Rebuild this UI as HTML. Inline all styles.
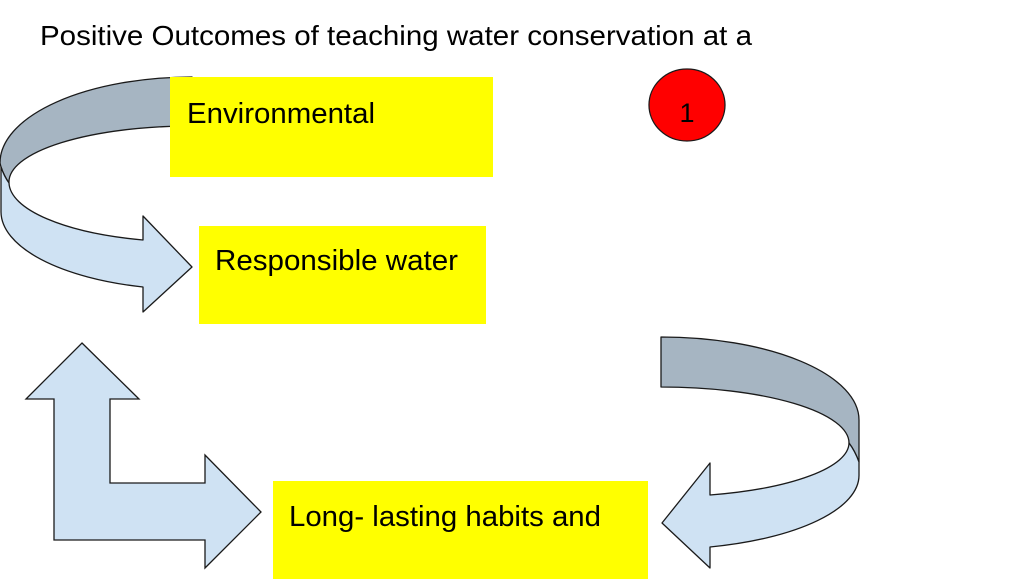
<!DOCTYPE html>
<html>
<head>
<meta charset="utf-8">
<style>
  html,body{margin:0;padding:0;background:#fff;}
  body{width:1024px;height:579px;overflow:hidden;}
  svg{display:block;}
  text{font-family:"Liberation Sans", Arial, sans-serif;fill:#000;}
</style>
</head>
<body>
<svg width="1024" height="579" viewBox="0 0 1024 579" xmlns="http://www.w3.org/2000/svg">
  <rect x="0" y="0" width="1024" height="579" fill="#fff"/>

  <!-- Title -->
  <text x="40" y="45" font-size="28" textLength="712" lengthAdjust="spacingAndGlyphs">Positive Outcomes of teaching water conservation at a</text>

  <!-- Top-left curved arrow: back (dark) band -->
  <path d="M192,77 A192,86 0 0 0 0,163 L1,167 Q4,176 9,183 A182,56 0 0 1 192,126 Z"
        fill="#a6b5c2" stroke="#1a1a1a" stroke-width="1.3" stroke-linejoin="round"/>
  <!-- front (light) band with head -->
  <path d="M1,167 L1,212 A191,78 0 0 0 143,287 L143,312 L192,267 L143,216 L143,240 A182,60 0 0 1 9,183 Q4,176 1,167 Z"
        fill="#cfe2f3" stroke="#1a1a1a" stroke-width="1.3" stroke-linejoin="round"/>

  <!-- Environmental box -->
  <rect x="170" y="77" width="323" height="100" fill="#ffff00"/>
  <text x="187" y="123" font-size="29" textLength="188" lengthAdjust="spacingAndGlyphs">Environmental</text>

  <!-- Red circle -->
  <ellipse cx="687" cy="105" rx="38" ry="36" fill="#ff0000" stroke="#1a1a1a" stroke-width="1.3"/>
  <text x="687" y="122" font-size="27" text-anchor="middle">1</text>

  <!-- Responsible water box -->
  <rect x="199" y="226" width="287" height="98" fill="#ffff00"/>
  <text x="215" y="270" font-size="29" textLength="243" lengthAdjust="spacingAndGlyphs">Responsible water</text>

  <!-- Bent double arrow (L-shape) -->
  <path d="M82,343 L139,399 L110,399 L110,483 L205,483 L205,455 L261,512 L205,568 L205,540 L54,540 L54,399 L26,399 Z"
        fill="#cfe2f3" stroke="#1a1a1a" stroke-width="1.3" stroke-linejoin="miter"/>

  <!-- Bottom-right curved arrow: back (dark) band -->
  <path d="M661,337 A198,83 0 0 1 859,420 L859,462 Q855,451 849,443 A188,56 0 0 0 661,387 Z"
        fill="#a6b5c2" stroke="#1a1a1a" stroke-width="1.3" stroke-linejoin="round"/>
  <!-- front (light) band with head -->
  <path d="M859,462 L859,475 A198,74 0 0 1 710,547 L710,568 L662,523 L710,463 L710,495 A188,54 0 0 0 849,443 Q855,451 859,462 Z"
        fill="#cfe2f3" stroke="#1a1a1a" stroke-width="1.3" stroke-linejoin="round"/>

  <!-- Long-lasting box -->
  <rect x="273" y="481" width="375" height="98" fill="#ffff00"/>
  <text x="289" y="526" font-size="29" textLength="312" lengthAdjust="spacingAndGlyphs">Long- lasting habits and</text>
</svg>
</body>
</html>
